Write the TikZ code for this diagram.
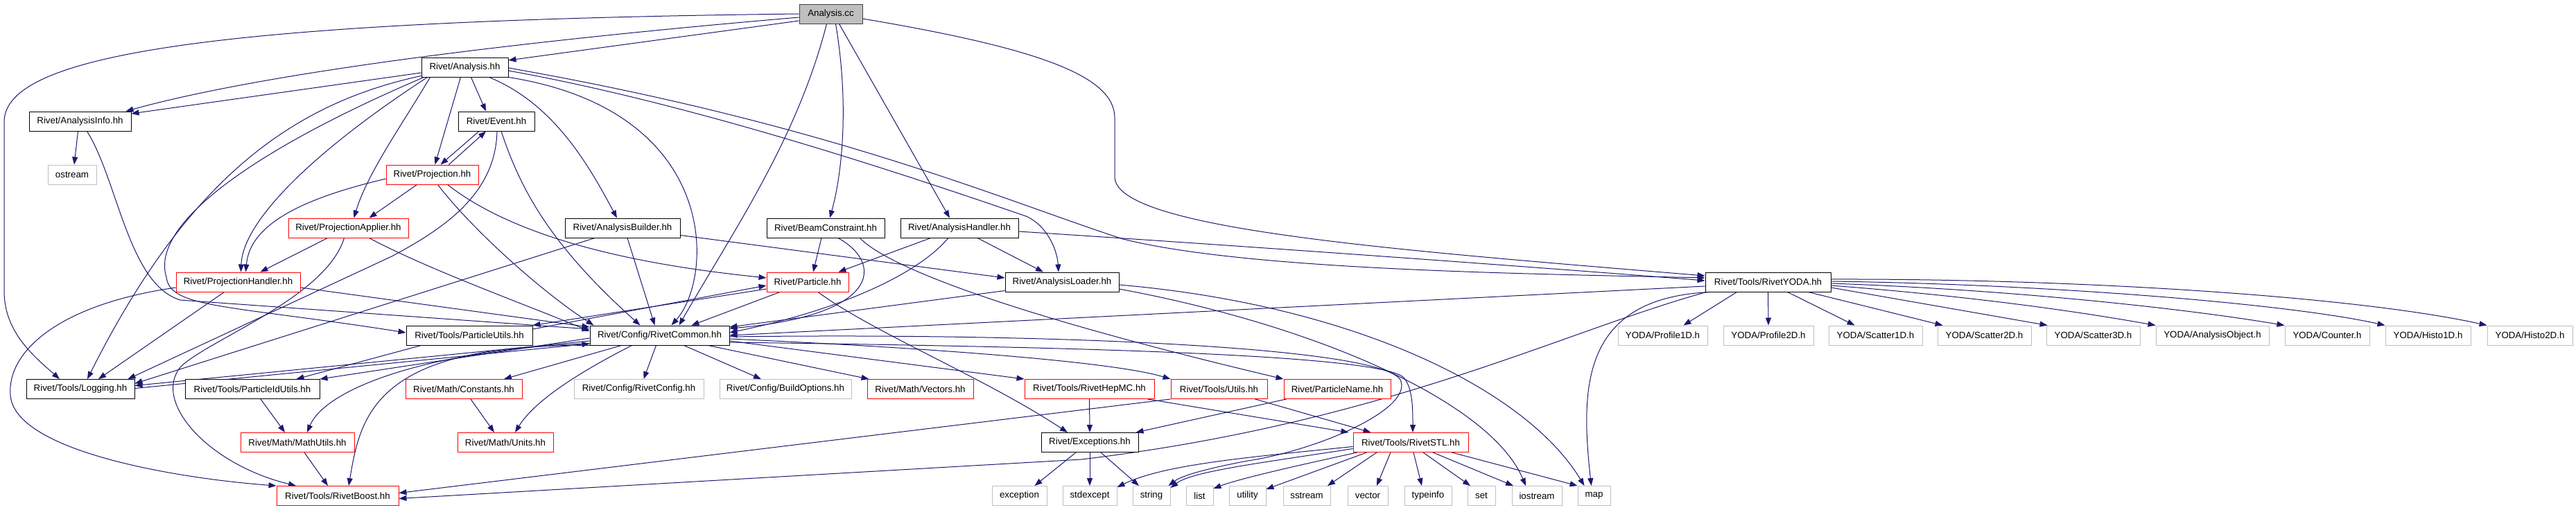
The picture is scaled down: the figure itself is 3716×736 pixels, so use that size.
\documentclass[tikz,border=0pt]{standalone}
\usepackage{fontspec}
\setmainfont{Liberation Sans}
\usetikzlibrary{arrows.meta,calc,backgrounds}
\definecolor{eblue}{HTML}{191970}
\definecolor{lgray}{HTML}{BFBFBF}
\definecolor{dgray}{HTML}{404040}
\definecolor{bred}{HTML}{FF0000}
\newcommand{\nodefont}{\fontsize{13.3}{16}\selectfont}
\tikzset{
  blk/.style={rectangle, draw=black, line width=0.95pt, fill=white, minimum height=28pt, inner sep=0pt, font=\nodefont, text=black},
  rbox/.style={blk, draw=bred},
  gbox/.style={blk, draw=lgray},
  cbox/.style={blk, draw=dgray, fill=lgray},
  dep/.style={draw=eblue, line width=1pt, -{Triangle[length=11pt,width=8pt]}},
}
\begin{document}
\begin{tikzpicture}[x=1pt,y=-1pt]
\useasboundingbox (0,0) rectangle (3716,736);
% ---------- nodes ----------
\node[cbox, minimum width=91pt] (cc) at (1198.5,20) {Analysis.cc};
\node[blk, minimum width=125pt] (ahh) at (670.5,97) {Rivet/Analysis.hh};
\node[blk, minimum width=147pt] (ainfo) at (115.5,175) {Rivet/AnalysisInfo.hh};
\node[blk, minimum width=110pt] (event) at (716,175) {Rivet/Event.hh};
\node[gbox, minimum width=70pt] (ostream) at (104,252) {ostream};
\node[rbox, minimum width=133pt] (proj) at (623.5,252) {Rivet/Projection.hh};
\node[rbox, minimum width=173pt] (papplier) at (502.5,329) {Rivet/ProjectionApplier.hh};
\node[blk, minimum width=166pt] (abuilder) at (898,329) {Rivet/AnalysisBuilder.hh};
\node[blk, minimum width=170pt] (beam) at (1191,329) {Rivet/BeamConstraint.hh};
\node[blk, minimum width=170pt] (ahandler) at (1384,329) {Rivet/AnalysisHandler.hh};
\node[rbox, minimum width=179pt] (phandler) at (343.5,407) {Rivet/ProjectionHandler.hh};
\node[rbox, minimum width=118pt] (particle) at (1165,407) {Rivet/Particle.hh};
\node[blk, minimum width=164pt] (aloader) at (1532,407) {Rivet/AnalysisLoader.hh};
\node[blk, minimum width=181pt] (yoda) at (2550.5,407) {Rivet/Tools/RivetYODA.hh};
\node[blk, minimum width=182pt] (putils) at (677,484) {Rivet/Tools/ParticleUtils.hh};
\node[blk, minimum width=201pt] (common) at (951.5,484) {Rivet/Config/RivetCommon.hh};
\node[gbox, minimum width=129pt] (p1d) at (2398.5,484) {YODA/Profile1D.h};
\node[gbox, minimum width=130pt] (p2d) at (2551,484) {YODA/Profile2D.h};
\node[gbox, minimum width=135pt] (s1d) at (2705.5,484) {YODA/Scatter1D.h};
\node[gbox, minimum width=135pt] (s2d) at (2862.5,484) {YODA/Scatter2D.h};
\node[gbox, minimum width=135pt] (s3d) at (3019.5,484) {YODA/Scatter3D.h};
\node[gbox, minimum width=163pt] (aobj) at (3191.5,484) {YODA/AnalysisObject.h};
\node[gbox, minimum width=122pt] (counter) at (3357,484) {YODA/Counter.h};
\node[gbox, minimum width=123pt] (h1d) at (3502.5,484) {YODA/Histo1D.h};
\node[gbox, minimum width=123pt] (h2d) at (3649.5,484) {YODA/Histo2D.h};
\node[blk, minimum width=156pt] (log) at (116,561.5) {Rivet/Tools/Logging.hh};
\node[blk, minimum width=194pt] (pidutils) at (364,561.5) {Rivet/Tools/ParticleIdUtils.hh};
\node[rbox, minimum width=168pt] (consts) at (669,561.5) {Rivet/Math/Constants.hh};
\node[gbox, minimum width=187pt] (rconfig) at (921.5,561.5) {Rivet/Config/RivetConfig.hh};
\node[gbox, minimum width=190pt] (bopts) at (1133,561.5) {Rivet/Config/BuildOptions.hh};
\node[rbox, minimum width=153pt] (vectors) at (1327.5,561.5) {Rivet/Math/Vectors.hh};
\node[rbox, minimum width=187pt] (hepmc) at (1571.5,561.5) {Rivet/Tools/RivetHepMC.hh};
\node[rbox, minimum width=139pt] (utils) at (1758.5,561.5) {Rivet/Tools/Utils.hh};
\node[rbox, minimum width=154pt] (pname) at (1929,561.5) {Rivet/ParticleName.hh};
\node[rbox, minimum width=164pt] (mathutils) at (429,638.5) {Rivet/Math/MathUtils.hh};
\node[rbox, minimum width=138pt] (units) at (729,638.5) {Rivet/Math/Units.hh};
\node[blk, minimum width=140pt] (exceptions) at (1572,638.5) {Rivet/Exceptions.hh};
\node[rbox, minimum width=166pt] (stl) at (2035,638.5) {Rivet/Tools/RivetSTL.hh};
\node[rbox, minimum width=176pt] (boost) at (487,715.5) {Rivet/Tools/RivetBoost.hh};
\node[gbox, minimum width=79pt] (nexception) at (1470.5,715.5) {exception};
\node[gbox, minimum width=78pt] (nstdexcept) at (1572,715.5) {stdexcept};
\node[gbox, minimum width=54pt] (nstring) at (1661,715.5) {string};
\node[gbox, minimum width=39pt] (nlist) at (1730.5,715.5) {list};
\node[gbox, minimum width=53pt] (nutility) at (1799.5,715.5) {utility};
\node[gbox, minimum width=68pt] (nsstream) at (1885,715.5) {sstream};
\node[gbox, minimum width=58pt] (nvector) at (1973,715.5) {vector};
\node[gbox, minimum width=68pt] (ntypeinfo) at (2060,715.5) {typeinfo};
\node[gbox, minimum width=40pt] (nset) at (2137,715.5) {set};
\node[gbox, minimum width=72pt] (niostream) at (2217,715.5) {iostream};
\node[gbox, minimum width=47pt] (nmap) at (2299.5,715.5) {map};
% ---------- edges ----------
\begin{scope}[on background layer]
\fill[white] (0,0) rectangle (3716,736);
% Analysis.cc
\draw[dep] (cc.west) .. controls (300,30) and (8,80) .. (6,175) -- (6,420) .. controls (6,480) and (50,515) .. ($(log.north)+(-30,0)$);
\draw[dep] ($(cc.west)+(0,5)$) .. controls (800,55) and (400,100) .. ($(ainfo.north east)+(-8,0)$);
\draw[dep] ($(cc.west)+(0,10)$) -- ($(ahh.east)+(0,-10)$);
\draw[dep] ($(cc.south)+(-6,0)$) .. controls (1150,200) and (1060,330) .. ($(common.north)+(28,0)$);
\draw[dep] ($(cc.south)+(7,0)$) .. controls (1225,150) and (1215,250) .. ($(beam.north)+(6,0)$);
\draw[dep] ($(cc.south)+(12,0)$) -- ($(ahandler.north)+(-14,0)$);
\draw[dep] ($(cc.east)+(0,7)$) .. controls (1500,70) and (1608,110) .. (1608,170) -- (1608,255) .. controls (1608,330) and (2000,360) .. ($(yoda.west)+(0,-9)$);
% Analysis.hh
\draw[dep] ($(ahh.west)+(0,8)$) -- ($(ainfo.east)+(0,-11)$);
\draw[dep] ($(ahh.south west)+(0,-2)$) .. controls (420,150) and (270,260) .. ($(log.north)+(10,0)$);
\draw[dep] ($(ahh.south west)+(4,0)$) .. controls (380,210) and (215,320) .. (240,400) .. controls (245,445) and (330,440) .. ($(putils.west)+(0,-4)$);
\draw[dep] ($(ahh.south west)+(9,0)$) .. controls (450,220) and (350,320) .. ($(phandler.north)+(4,0)$);
\draw[dep] ($(ahh.south)+(-50,0)$) .. controls (580,180) and (530,250) .. ($(papplier.north)+(8,0)$);
\draw[dep] ($(ahh.south)+(-6,0)$) -- ($(proj.north)+(4,0)$);
\draw[dep] ($(ahh.south)+(9,0)$) -- ($(event.north)+(-15,0)$);
\draw[dep] ($(ahh.south)+(35,0)$) .. controls (800,150) and (850,240) .. ($(abuilder.north)+(-8,0)$);
\draw[dep] (ahh.south east) .. controls (1040,160) and (1030,400) .. ($(common.north)+(17,0)$);
\draw[dep] ($(ahh.east)+(0,5)$) .. controls (1000,150) and (1300,250) .. (1480,312) .. controls (1510,325) and (1525,360) .. ($(aloader.north)+(-5,0)$);
\draw[dep] ($(ahh.east)+(0,1)$) .. controls (1200,180) and (1450,290) .. (1620,345) .. controls (1800,390) and (2200,395) .. ($(yoda.west)+(0,-6)$);
% AnalysisInfo.hh
\draw[dep] ($(ainfo.south)+(-3,0)$) -- ($(ostream.north)+(3,0)$);
\draw[dep] ($(ainfo.south)+(10,0)$) .. controls (170,260) and (185,410) .. (260,433) -- ($(common.west)+(0,-9)$);
% Event.hh
\draw[dep] ($(event.south)+(-25,0)$) -- ($(proj.north)+(12,0)$);
\draw[dep] ($(event.south)+(7,0)$) .. controls (750,270) and (790,350) .. ($(common.north)+(-28,0)$);
\draw[dep] ($(event.south)+(1,0)$) .. controls (715,280) and (640,330) .. (565,370) -- ($(log.north east)+(-10,0)$);
% Projection.hh
\draw[dep] ($(proj.north)+(24,0)$) -- ($(event.south)+(-15,0)$);
\draw[dep] ($(proj.south)+(-22,0)$) -- ($(papplier.north)+(30,0)$);
\draw[dep] ($(proj.west)+(0,6)$) .. controls (420,290) and (360,330) .. ($(phandler.north)+(11,0)$);
\draw[dep] ($(proj.south)+(8,0)$) .. controls (680,330) and (780,420) .. ($(common.north west)+(6,0)$);
\draw[dep] ($(proj.south)+(22,0)$) .. controls (740,340) and (900,380) .. ($(particle.west)+(0,-6)$);
% ProjectionApplier.hh
\draw[dep] ($(papplier.south)+(-30,0)$) -- ($(phandler.north)+(32,0)$);
\draw[dep] ($(papplier.south)+(-6,0)$) .. controls (470,430) and (300,490) .. (260,530) .. controls (220,580) and (300,670) .. ($(boost.north)+(-60,0)$);
\draw[dep] ($(papplier.south)+(30,0)$) .. controls (620,390) and (760,440) .. ($(common.west)+(0,-6)$);
% AnalysisBuilder.hh
\draw[dep] ($(abuilder.south east)+(0,-4)$) -- ($(aloader.west)+(0,-6)$);
\draw[dep] ($(abuilder.south)+(7,0)$) -- ($(common.north)+(-7,0)$);
\draw[dep] ($(abuilder.south)+(-40,0)$) -- ($(log.east)+(0,-8)$);
% BeamConstraint.hh
\draw[dep] ($(beam.south)+(-6,0)$) -- ($(particle.north)+(8,0)$);
\draw[dep] ($(beam.south)+(18,0)$) .. controls (1275,380) and (1270,455) .. ($(common.east)+(0,-10)$);
\draw[dep] ($(beam.south east)+(-36,0)$) .. controls (1270,375) and (1400,440) .. (pname.north west);
% AnalysisHandler.hh
\draw[dep] ($(ahandler.south west)+(44,0)$) -- ($(particle.north east)+(-15,0)$);
\draw[dep] ($(ahandler.south)+(-16,0)$) .. controls (1320,400) and (1200,450) .. ($(common.east)+(0,-4)$);
\draw[dep] ($(ahandler.south)+(26,0)$) -- ($(aloader.north)+(-27,0)$);
\draw[dep] ($(ahandler.east)+(0,5)$) .. controls (1900,362) and (2300,392) .. ($(yoda.west)+(0,-2)$);
% ProjectionHandler.hh
\draw[dep] ($(phandler.south)+(-20,0)$) -- ($(log.north)+(26,0)$);
\draw[dep] ($(phandler.west)+(0,8)$) .. controls (80,440) and (10,510) .. (15,570) .. controls (20,650) and (250,690) .. (boost.north west);
\draw[dep] ($(phandler.east)+(0,8)$) -- ($(common.west)+(0,-12)$);
% Particle.hh
\draw[dep] ($(particle.south)+(-40,0)$) -- ($(common.north east)+(-55,0)$);
\draw[dep] ($(particle.west)+(0,10)$) -- (putils.north east);
\draw[dep] ($(putils.east)+(0,-9)$) -- ($(particle.west)+(0,5)$);
\draw[dep] ($(particle.south)+(15,0)$) .. controls (1260,480) and (1420,545) .. ($(exceptions.north)+(-32,0)$);
% AnalysisLoader.hh
\draw[dep] ($(aloader.south west)+(0,-2)$) -- ($(common.east)+(0,-12)$);
\draw[dep] ($(aloader.east)+(0,4)$) .. controls (1950,440) and (2200,560) .. ($(nmap.north)+(-14,0)$);
\draw[dep] ($(aloader.east)+(0,10)$) .. controls (1900,470) and (2150,580) .. ($(niostream.north)+(-16,0)$);
% RivetYODA.hh
\draw[dep] ($(yoda.west)+(0,6)$) -- (common.east);
\draw[dep] ($(yoda.south west)+(2,0)$) .. controls (2250,480) and (2000,610) .. (1560,663) -- ($(boost.east)+(0,4)$);
\draw[dep] ($(yoda.south west)+(8,0)$) .. controls (2280,430) and (2280,560) .. ($(nmap.north)+(-4,0)$);
\draw[dep] ($(yoda.south)+(-45,0)$) -- ($(p1d.north)+(30,0)$);
\draw[dep] (yoda.south) -- (p2d.north);
\draw[dep] ($(yoda.south)+(28,0)$) -- ($(s1d.north)+(-30,0)$);
\draw[dep] ($(yoda.south)+(58,0)$) -- ($(s2d.north west)+(8,0)$);
\draw[dep] ($(yoda.east)+(0,8)$) -- ($(s3d.north west)+(2,0)$);
\draw[dep] ($(yoda.east)+(0,5)$) .. controls (2850,428) and (3000,450) .. (aobj.north west);
\draw[dep] ($(yoda.east)+(0,2)$) .. controls (2900,418) and (3150,445) .. (counter.north west);
\draw[dep] ($(yoda.east)+(0,-1)$) .. controls (2950,410) and (3300,438) .. (h1d.north west);
\draw[dep] ($(yoda.east)+(0,-4)$) .. controls (3000,402) and (3400,428) .. (h2d.north west);
% ParticleUtils.hh
\draw[dep] ($(putils.south west)+(22,0)$) -- ($(pidutils.north east)+(-34,0)$);
% RivetCommon.hh
\draw[dep] ($(common.west)+(0,8)$) -- ($(log.east)+(0,-5)$);
\draw[dep] ($(log.east)+(0,-1)$) -- ($(common.west)+(0,12)$);
\draw[dep] ($(common.west)+(0,4)$) -- (pidutils.north east);
\draw[dep] ($(common.south west)+(0,-3)$) .. controls (620,505) and (470,560) .. ($(mathutils.north)+(14,0)$);
\draw[dep] ($(common.south west)+(3,0)$) .. controls (540,495) and (520,600) .. ($(boost.north)+(16,0)$);
\draw[dep] ($(common.south)+(-55,0)$) -- ($(consts.north)+(58,0)$);
\draw[dep] ($(common.south)+(-40,0)$) .. controls (830,540) and (770,580) .. ($(units.north)+(14,0)$);
\draw[dep] ($(common.south)+(-5,0)$) -- ($(rconfig.north)+(7,0)$);
\draw[dep] ($(common.south)+(35,0)$) -- ($(bopts.north)+(-35,0)$);
\draw[dep] ($(common.south east)+(-31,0)$) -- ($(vectors.north west)+(3,0)$);
\draw[dep] ($(common.east)+(0,8)$) -- (hepmc.north west);
\draw[dep] ($(common.east)+(0,5)$) .. controls (1300,500) and (1600,520) .. (utils.north west);
\draw[dep] ($(common.east)+(0,10)$) .. controls (1500,500) and (1990,510) .. (2025,545) .. controls (2038,560) and (2038,590) .. ($(stl.north)+(3,0)$);
\draw[dep] ($(common.east)+(0,2)$) .. controls (1500,480) and (1990,500) .. (2020,548) .. controls (2040,590) and (1900,650) .. (1800,665) .. controls (1720,680) and (1700,690) .. ($(nstring.north east)+(-3,0)$);
% lower levels
\draw[dep] ($(pidutils.south)+(12,0)$) -- ($(mathutils.north)+(-18,0)$);
\draw[dep] ($(consts.south)+(10,0)$) -- ($(units.north)+(-16,0)$);
\draw[dep] ($(mathutils.south)+(10,0)$) -- ($(boost.north)+(-14,0)$);
\draw[dep] (hepmc.south) -- (exceptions.north);
\draw[dep] ($(hepmc.south east)+(-10,0)$) -- ($(stl.north west)+(-6,0)$);
\draw[dep] ($(utils.south east)+(-18,0)$) -- ($(stl.north west)+(26,0)$);
\draw[dep] (utils.south west) -- ($(boost.east)+(0,-4)$);
\draw[dep] ($(pname.south west)+(4,0)$) -- ($(exceptions.north east)+(-4,0)$);
\draw[dep] ($(exceptions.south)+(-20,0)$) -- ($(nexception.north)+(22,0)$);
\draw[dep] (exceptions.south) -- (nstdexcept.north);
\draw[dep] ($(exceptions.south)+(16,0)$) -- ($(nstring.north)+(-18,0)$);
% RivetSTL.hh
\draw[dep] ($(stl.west)+(0,6)$) .. controls (1800,660) and (1680,670) .. ($(nstdexcept.north east)+(0,2)$);
\draw[dep] ($(stl.west)+(0,9)$) .. controls (1820,668) and (1720,680) .. ($(nstring.north east)+(0,3)$);
\draw[dep] ($(stl.south west)+(6,0)$) .. controls (1880,670) and (1790,690) .. ($(nlist.north east)+(0,4)$);
\draw[dep] ($(stl.south west)+(20,0)$) -- ($(nutility.north east)+(0,5)$);
\draw[dep] ($(stl.south)+(-49,0)$) -- ($(nsstream.north)+(30,0)$);
\draw[dep] ($(stl.south)+(-29,0)$) -- ($(nvector.north)+(13,0)$);
\draw[dep] ($(stl.south)+(4,0)$) -- ($(ntypeinfo.north)+(-9,0)$);
\draw[dep] ($(stl.south)+(18,0)$) -- ($(nset.north)+(-16,0)$);
\draw[dep] ($(stl.south)+(32,0)$) -- ($(niostream.north)+(-34,0)$);
\draw[dep] ($(stl.south east)+(-24,0)$) -- (nmap.north west);
\end{scope}
\end{tikzpicture}
\end{document}
